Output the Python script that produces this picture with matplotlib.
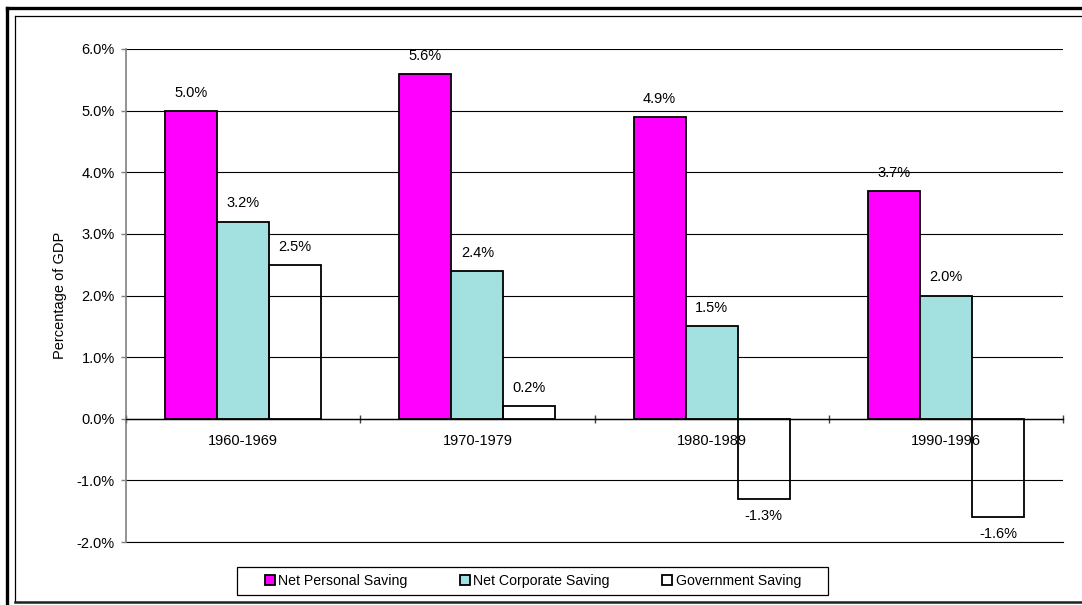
import numpy as np
import matplotlib.pyplot as plt
from matplotlib.lines import Line2D
from matplotlib.patches import Rectangle
from matplotlib.ticker import FuncFormatter, FixedLocator

plt.rcParams['font.family'] = ['Liberation Sans', 'DejaVu Sans']

periods = ["1960-1969", "1970-1979", "1980-1989", "1990-1996"]
series_names = ["Net Personal Saving", "Net Corporate Saving", "Government Saving"]
personal = [5.0, 5.6, 4.9, 3.7]
corporate = [3.2, 2.4, 1.5, 2.0]
government = [2.5, 0.2, -1.3, -1.6]
colors = ["#FF00FF", "#A3E0E0", "none"]

W, H = 1082, 605
fig = plt.figure(figsize=(W / 100, H / 100), dpi=100)
ax = fig.add_axes([126 / W, 1 - 542 / H, (1063 - 126) / W, (542 - 49) / H])

x = np.arange(len(periods))
bw = 0.222
for i, (vals, col) in enumerate(zip([personal, corporate, government], colors)):
    bars = ax.bar(x + (i - 1) * bw, vals, bw, color=col, edgecolor="black",
                  linewidth=1.3, label=series_names[i], zorder=3)
    for b, v in zip(bars, vals):
        cx = b.get_x() + b.get_width() / 2
        if v >= 0:
            ax.annotate(f"{v:.1f}%", (cx, v), xytext=(0, 8), textcoords="offset points",
                        ha="center", va="bottom", fontsize=10.5)
        else:
            ax.annotate(f"{v:.1f}%", (cx, v), xytext=(0, -7), textcoords="offset points",
                        ha="center", va="top", fontsize=10.5)

ax.set_xlim(-0.5, len(periods) - 0.5)
ax.set_ylim(-2.0, 6.0)

# y axis
ax.set_yticks(np.arange(-2.0, 6.01, 1.0))
ax.yaxis.set_major_formatter(FuncFormatter(lambda v, p: f"{v:.1f}%"))
ax.tick_params(axis="y", direction="out", length=3.6, width=1, color="#808080",
               labelsize=10.5, pad=4.5)
ax.grid(axis="y", color="black", linewidth=0.8, zorder=0)
ax.axhline(-2.0, color="black", linewidth=0.8, clip_on=False, zorder=0)
ax.set_ylabel("Percentage of GDP", fontsize=10.5, labelpad=7)

# x axis drawn at zero, ticks between categories
ax.spines["top"].set_visible(False)
ax.spines["right"].set_visible(False)
ax.spines["left"].set_color("#808080")
ax.spines["left"].set_linewidth(1.2)
ax.spines["bottom"].set_position(("data", 0))
ax.spines["bottom"].set_linewidth(1.0)
ax.spines["bottom"].set_zorder(4)
ax.xaxis.set_major_locator(FixedLocator(np.arange(-0.5, len(periods), 1.0)))
ax.xaxis.set_major_formatter(FuncFormatter(lambda v, p: ""))
ax.xaxis.set_minor_locator(FixedLocator(x))
ax.set_xticklabels(periods, minor=True)
ax.tick_params(axis="x", which="major", direction="inout", length=6, width=1, color="#404040")
ax.tick_params(axis="x", which="minor", length=0, labelsize=10.5, pad=11)

# legend with a plain rectangular box behind it
fig.add_artist(Rectangle((237 / W, 1 - 595 / H), (828 - 237) / W, 28 / H,
                         transform=fig.transFigure, facecolor="white",
                         edgecolor="black", linewidth=0.9))
leg = fig.legend(loc="center", bbox_to_anchor=(533 / W, 1 - 581 / H), ncol=3,
                 fontsize=10.2, frameon=False,
                 handlelength=0.7, handleheight=0.7, handletextpad=0.25,
                 columnspacing=3.7, borderpad=0, borderaxespad=0)
leg.set_zorder(5)

# chart frame
fig.add_artist(Line2D([7 / W, 7 / W], [0, 1 - 8 / H], color="black", linewidth=2.4,
                      transform=fig.transFigure))
fig.add_artist(Line2D([7 / W, 1], [1 - 8 / H, 1 - 8 / H], color="black", linewidth=2.4,
                      transform=fig.transFigure))
fig.add_artist(Line2D([15.5 / W, 15.5 / W], [1 - 602 / H, 1 - 16 / H], color="black",
                      linewidth=0.9, transform=fig.transFigure))
fig.add_artist(Line2D([15.5 / W, 1], [1 - 16 / H, 1 - 16 / H], color="black",
                      linewidth=0.9, transform=fig.transFigure))
fig.add_artist(Line2D([15.5 / W, 1], [1 - 602 / H, 1 - 602 / H], color="#202020",
                      linewidth=1.8, transform=fig.transFigure))

fig.savefig("out.png", dpi=100)
